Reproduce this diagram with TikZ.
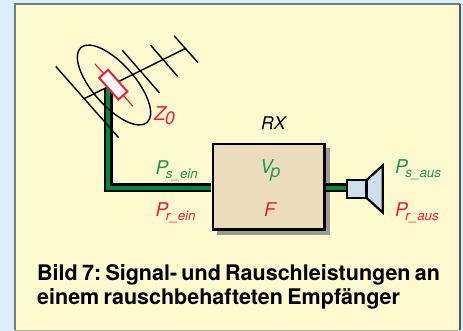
\documentclass[tikz,border=0pt]{standalone}
\usepackage{fontspec}
\setmainfont{TeX Gyre Heros}
\usetikzlibrary{calc}
\definecolor{bgblue}{HTML}{DBEEFF}
\definecolor{panel}{HTML}{FFF9CF}
\definecolor{panelline}{HTML}{6F7F80}
\definecolor{boxfill}{HTML}{EBDDBB}
\definecolor{shadowgray}{HTML}{9A9A9A}
\definecolor{wiregreen}{HTML}{008A36}
\definecolor{labgreen}{HTML}{1F9A50}
\definecolor{labred}{HTML}{E8203F}
\definecolor{spkblue}{HTML}{CDDFEC}
\tikzset{
  lab/.style={font=\fontsize{19}{20}\selectfont\itshape,inner sep=0pt,anchor=base west},
  siglab/.style={lab,text=labgreen},
  noiselab/.style={lab,text=labred},
  antline/.style={draw=black,line width=1.4pt,line cap=round},
  rxbox/.style={draw=black,line width=2.6pt,fill=boxfill,minimum width=111.5pt,minimum height=85.5pt,inner sep=0pt},
  spkbox/.style={draw=black,line width=2.2pt,fill=spkblue,minimum width=19pt,minimum height=18pt,inner sep=0pt},
  caption/.style={font=\fontsize{21.5}{24}\selectfont\bfseries,inner sep=0pt,anchor=base west}
}
\newcommand{\subx}[1]{\kern-2.5pt\raisebox{-3.5pt}{\fontsize{13.4}{14}\selectfont #1}}
\newcommand{\captight}{\frenchspacing\spaceskip=0.2em\relax}
\begin{document}
\begin{tikzpicture}[x=1pt,y=-1pt]
\useasboundingbox (0,0) rectangle (463,331);
\fill[bgblue] (0,0) rectangle (463,331);
\fill[panel] (15,4) rectangle (460,330);
\draw[panelline,line width=1.5pt] (15,330) -- (15,4) -- (460,4);
\draw[panelline!70!black,line width=1.5pt] (460,4) -- (460,330);
\draw[panelline!60!panel,line width=1pt] (15,330) -- (460,330);
% receiver
\fill[shadowgray] (217,148) rectangle (330,235);
\node[rxbox] (rx) at (268.7,186.9) {};
% feeder
\coordinate (feedtop) at (108,88);
\coordinate (rxin) at (211,188);
\coordinate (rxout) at (326,188);
\draw[black,line width=9pt,line join=miter] (feedtop) |- (rxin);
\draw[wiregreen,line width=4.8pt,line join=miter] (feedtop) |- (rxin);
% speaker
\node[spkbox] (spk) at (356.3,188.7) {};
\draw[black,line width=9pt] (rxout) -- (spk.west |- rxout);
\draw[wiregreen,line width=4.8pt] (rxout) -- (spk.west |- rxout);
\draw[black,line width=2.2pt,fill=spkblue,line join=miter] (366.7,180) -- (382.7,165.5) -- (382.7,212.5) -- (366.7,198) -- cycle;
% antenna
\draw[antline] (84,98.7) -- (185.7,48.3);
\draw[antline] (56,66.7) -- (118.3,137.3);
\draw[antline] (122.7,50.7) -- (159.3,92.7);
\draw[antline] (150.7,45.3) -- (177.3,76);
\draw[antline] (174.3,36) -- (197.7,62.3);
\draw[black,line width=1.4pt] (114,85) ellipse[x radius=50,y radius=21,rotate=-48.5];
\draw[labred,line width=1.2pt] (95,64) -- (132.7,106);
\node[draw=labred,line width=2pt,fill=white,minimum width=29pt,minimum height=12pt,inner sep=0pt,rotate=-48.5] (dipole) at (113.3,84.7) {};
% labels
\node[noiselab] (z0) at (154,121) {Z\kern-1pt\raisebox{-4pt}{\fontsize{18}{18}\selectfont 0}};
\node[lab,text=black,font=\fontsize{17.5}{18}\selectfont\itshape] (rxl) at (261,129.5) {RX};
\node[siglab] (psein) at (155.5,175) {P\subx{s\_ein}};
\node[noiselab] (prein) at (155.5,216.5) {P\subx{r\_ein}};
\node[siglab] (vp) at (260,174) {V\subx{\fontsize{18}{18}\selectfont p}};
\node[noiselab] (f) at (264,216) {F};
\node[siglab] (psaus) at (395,174) {P\subx{s\_aus}};
\node[noiselab] (praus) at (395,216.5) {P\subx{r\_aus}};
% caption
\node[caption] (cap1) at (37,280) {\captight Bild 7: Signal- und Rauschleistungen an};
\node[caption] (cap2) at (37,304) {\captight einem rauschbehafteten Empfänger};
\end{tikzpicture}
\end{document}
